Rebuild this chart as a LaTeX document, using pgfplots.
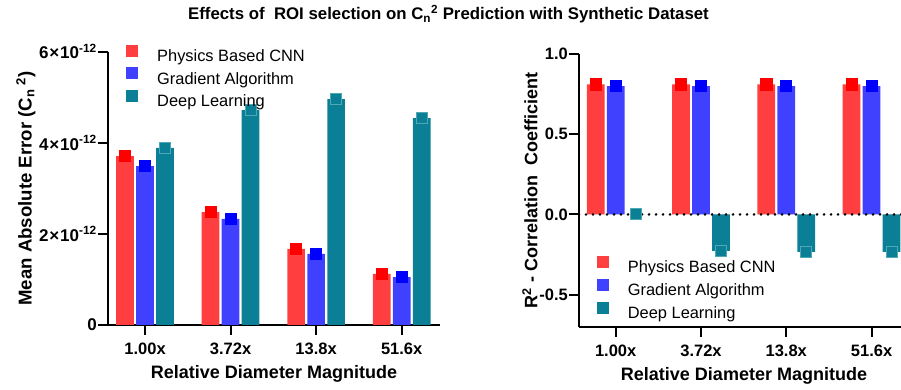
\documentclass[border=0pt]{standalone}
\usepackage{fontspec}
\setmainfont{Liberation Sans}
\usepackage{pgfplots}
\usepackage{pgfplotstable}
\pgfplotsset{compat=1.18}
\definecolor{barred}{HTML}{FF3F3F}
\definecolor{markred}{HTML}{FF0000}
\definecolor{barblue}{HTML}{4040FF}
\definecolor{markblue}{HTML}{0000FF}
\definecolor{barteal}{HTML}{0A7F95}
\definecolor{markteal}{HTML}{4FA8B6}

\pgfplotstableread{
x pcnn grad dl
0 3.71e-12 3.49e-12 3.89e-12
1 2.48e-12 2.33e-12 4.72e-12
2 1.67e-12 1.56e-12 4.96e-12
3 1.12e-12 1.05e-12 4.54e-12
}\maetable
\pgfplotstableread{
x pcnn grad dl
0 0.81 0.80 0.00
1 0.81 0.80 -0.227
2 0.81 0.80 -0.233
3 0.81 0.80 -0.233
}\rtable

\pgfplotsset{
  myaxis/.style={
    scale only axis,
    axis lines=left,
    axis line style={line width=2pt,-},
    tick style={line width=2pt,black},
    major tick length=10pt,
    tick align=outside,
    xtick={0,1,2,3},
    xticklabels={1.00x,3.72x,13.8x,51.6x},
    ticklabel style={font=\bfseries\fontsize{16.5}{19}\selectfont},
    xticklabel style={inner sep=0pt, anchor=north, yshift=-8pt},
    yticklabel style={inner sep=1pt},
    label style={font=\bfseries\fontsize{18}{21}\selectfont},
    xlabel={Relative Diameter Magnitude},
    xlabel style={at={(axis description cs:0.5,-0.197)}, anchor=base},
    scaled y ticks=false,
    legend cell align=left,
    legend style={draw=none, fill=none, anchor=north west,
      font=\fontsize{16.4}{19}\selectfont, row sep=4.6pt, inner sep=0pt,
      nodes={inner sep=0pt},
      /tikz/every odd column/.append style={column sep=19pt}},
    clip=false,
  },
  redbar/.style={ybar, bar width=17.7pt, bar shift=-20pt, draw=none, fill=barred,
    legend image code/.code={\fill[barred] (0pt,-0.5pt) rectangle (12pt,11.5pt);}},
  bluebar/.style={ybar, bar width=17.7pt, bar shift=0pt, draw=none, fill=barblue,
    legend image code/.code={\fill[barblue] (0pt,-0.5pt) rectangle (12pt,11.5pt);}},
  tealbar/.style={ybar, bar width=17.7pt, bar shift=20pt, draw=none, fill=barteal,
    legend image code/.code={\fill[barteal] (0pt,-0.5pt) rectangle (12pt,11.5pt);}},
  redmark/.style={only marks, mark=square*, mark size=5.6pt,
    mark options={fill=markred, draw=markred, line width=0.8pt}, forget plot},
  bluemark/.style={only marks, mark=square*, mark size=5.6pt,
    mark options={fill=markblue, draw=markblue, line width=0.8pt}, forget plot},
  tealmark/.style={only marks, mark=square*, mark size=5.5pt,
    mark options={fill=barteal, draw=markteal, line width=1pt}, forget plot},
}

\begin{document}
\begin{tikzpicture}
\node[anchor=base, font=\bfseries\fontsize{16.8}{20}\selectfont] at (448.5pt,370pt)
  {Effects of\ \ ROI selection on C\textsubscript{n}\textsuperscript{2} Prediction with Synthetic Dataset};

\begin{axis}[myaxis,
  at={(108pt,65pt)}, anchor=south west,
  width=332pt, height=273.3pt,
  xmin=-0.433, xmax=3.448, ymin=0, ymax=6e-12,
  ytick={0,2e-12,4e-12,6e-12},
  yticklabels={0,{2\kern0.8pt×\kern0.8pt10\textsuperscript{-12}},{4\kern0.8pt×\kern0.8pt10\textsuperscript{-12}},{6\kern0.8pt×\kern0.8pt10\textsuperscript{-12}}},
  yticklabel style={font=\bfseries\fontsize{17}{19}\selectfont},
  ylabel={Mean Absolute Error (C\textsubscript{n}\textsuperscript{\,\,2})},
  ylabel style={at={(axis description cs:-0.2298,0.5)}, anchor=base, font=\bfseries\fontsize{18.6}{21}\selectfont},
  legend style={at={(0.0542,1.027)}},
]
\addplot[redbar] table[x=x, y=pcnn] {\maetable};
\addlegendentry{Physics Based CNN}
\addplot[bluebar] table[x=x, y=grad] {\maetable};
\addlegendentry{Gradient Algorithm}
\addplot[tealmark] table[x expr=\thisrow{x}+0.234, y=dl] {\maetable};
\addplot[tealbar] table[x=x, y=dl] {\maetable};
\addlegendentry{Deep Learning}
\addplot[redmark] table[x expr=\thisrow{x}-0.234, y=pcnn] {\maetable};
\addplot[bluemark] table[x=x, y=grad] {\maetable};
\end{axis}

\begin{axis}[myaxis,
  at={(579pt,63.3pt)}, anchor=south west,
  width=330pt, height=272.7pt,
  xmin=-0.430, xmax=3.439, ymin=-0.7, ymax=1,
  ytick={-0.5,0,0.5,1},
  yticklabels={-0.5,0.0,0.5,1.0},
  ylabel={R\textsuperscript{2} - Correlation\ \ Coefficient},
  ylabel style={at={(axis description cs:-0.1264,0.5)}, anchor=base},
  legend style={at={(0.0536,0.2595)}},
]
\addplot[redbar] table[x=x, y=pcnn] {\rtable};
\addlegendentry{Physics Based CNN}
\addplot[bluebar] table[x=x, y=grad] {\rtable};
\addlegendentry{Gradient Algorithm}
\addplot[tealmark] table[x expr=\thisrow{x}+0.234, y=dl] {\rtable};
\addplot[tealbar] table[x=x, y=dl] {\rtable};
\addlegendentry{Deep Learning}
\addplot[redmark] table[x expr=\thisrow{x}-0.234, y=pcnn] {\rtable};
\addplot[bluemark] table[x=x, y=grad] {\rtable};
\addplot[black, line width=2.8pt, line cap=round, dash pattern=on 0pt off 7pt, forget plot]
  coordinates {(-0.43,0) (3.44,0)};
\end{axis}
\pgfresetboundingbox
\useasboundingbox (0pt,0pt) rectangle (901pt,390pt);
\end{tikzpicture}
\end{document}
